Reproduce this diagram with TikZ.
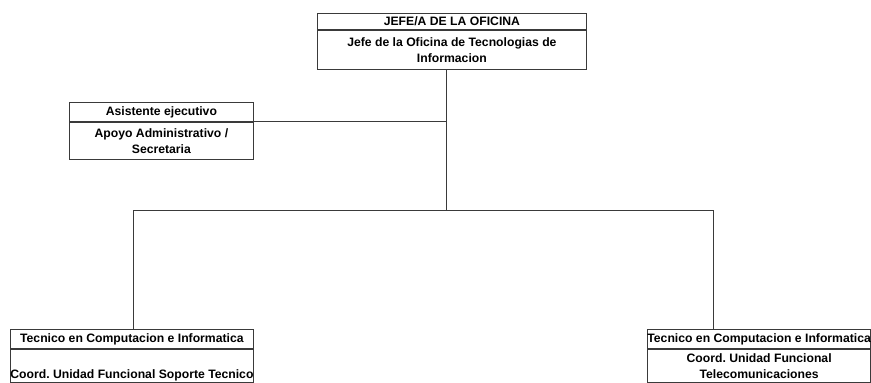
\documentclass[tikz,border=0pt]{standalone}
\usepackage{fontspec}
\setmainfont{Liberation Sans}
\setsansfont{Liberation Sans}
\usetikzlibrary{positioning}
\definecolor{cline}{HTML}{3A3A3A}
\frenchspacing
\tikzset{
  every picture/.style={font=\fontsize{12.2}{16}\selectfont\sffamily\bfseries, line width=0.8pt},
  head/.style={draw=cline, anchor=north west, inner sep=0pt, minimum height=19pt, align=center},
  body/.style={draw=cline, anchor=north, inner sep=0pt, align=center},
  link/.style={draw=cline, line width=0.8pt},
}

\begin{document}
\begin{tikzpicture}[x=1pt, y=-1pt]
  \useasboundingbox (0,0) rectangle (871,383);
  % jefe de la oficina
  \node[head, minimum width=269pt, minimum height=16.5pt] (jhead) at (317,12.5) {JEFE/A DE LA OFICINA};
  \node[body, minimum width=269pt, minimum height=39pt, below=0pt of jhead] (jbody)
    {Jefe de la Oficina de Tecnologias de\\Informacion};
  % asistente
  \node[head, minimum width=184pt] (ahead) at (69,102) {Asistente ejecutivo};
  \node[body, minimum width=184pt, minimum height=37pt, below=0pt of ahead] (abody)
    {Apoyo Administrativo /\\Secretaria};
  % coordinadores
  \node[head, minimum width=243pt] (lhead) at (10,329) {Tecnico en Computacion e Informatica};
  \node[body, minimum width=243pt, minimum height=33pt, below=0pt of lhead] (lbody)
    {\strut\\Coord. Unidad Funcional Soporte Tecnico};
  \node[head, minimum width=223pt] (rhead) at (647,329) {Tecnico en Computacion e Informatica};
  \node[body, minimum width=223pt, minimum height=33pt, below=0pt of rhead] (rbody)
    {Coord. Unidad Funcional\\Telecomunicaciones};
  % lineas
  \coordinate (hub) at (446,210);
  \coordinate (ltap) at (133,210);
  \coordinate (rtap) at (713,210);
  \draw[link] (jbody.south -| hub) -- (hub);
  \draw[link] (abody.north east) -- (abody.north east -| hub);
  \draw[link] (ltap) -- (rtap);
  \draw[link] (ltap) -- (ltap |- lhead.north);
  \draw[link] (rtap) -- (rtap |- rhead.north);
\end{tikzpicture}
\end{document}
